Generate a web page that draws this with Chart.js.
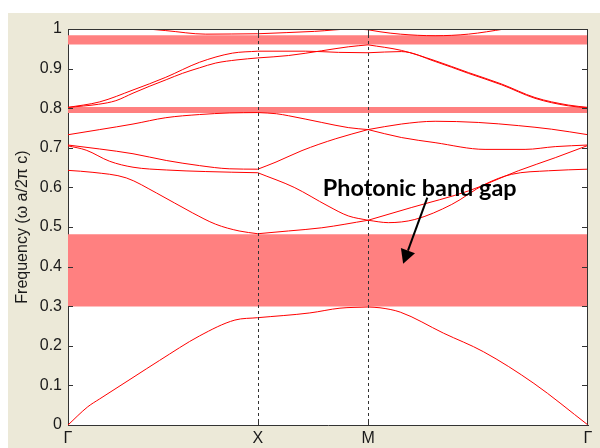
<!DOCTYPE html>
<html>
<head>
<meta charset="utf-8">
<script src="https://cdn.jsdelivr.net/npm/chart.js@4.4.0/dist/chart.umd.min.js"></script>
<style>
  html, body { margin: 0; padding: 0; background: #fff; }
  #wrap { width: 600px; height: 448px; }
</style>
</head>
<body>
<div id="wrap"><canvas id="bands" width="600" height="448"></canvas></div>
<script>
// position along the Γ-X-M-Γ path (0..1) and the symmetry point labels
const kTicks = [0, 0.365, 0.577, 1];
const kLabels = ["Γ", "X", "M", "Γ"];

// bands, frequency in units of ωa/2πc
const k1 = [0, 0.038, 0.061, 0.125, 0.176, 0.253, 0.321, 0.365, 0.465, 0.523, 0.577, 0.6, 0.639, 0.722, 0.799, 0.896, 1];
const w1 = [0, 0.046, 0.066, 0.12, 0.163, 0.225, 0.265, 0.271, 0.283, 0.295, 0.298, 0.296, 0.285, 0.232, 0.185, 0.105, 0];

const k2 = [0, 0.048, 0.112, 0.17, 0.239, 0.284, 0.329, 0.365, 0.424, 0.488, 0.577, 0.616, 0.667, 0.738, 0.802, 0.853, 0.924, 1];
const w2 = [0.643, 0.638, 0.624, 0.586, 0.536, 0.507, 0.49, 0.483, 0.49, 0.498, 0.517, 0.511, 0.519, 0.557, 0.608, 0.633, 0.642, 0.646];

const k3 = [0, 0.035, 0.08, 0.125, 0.189, 0.265, 0.365, 0.435, 0.5, 0.539, 0.577, 0.66, 0.77, 0.866, 0.937, 1];
const w3 = [0.705, 0.694, 0.666, 0.651, 0.644, 0.64, 0.637, 0.6, 0.553, 0.528, 0.517, 0.549, 0.591, 0.642, 0.675, 0.706];

const k4 = [0, 0.061, 0.125, 0.189, 0.253, 0.31, 0.365, 0.4, 0.45, 0.515, 0.577, 0.641, 0.706, 0.802, 0.879, 0.937, 1];
const w4 = [0.707, 0.697, 0.685, 0.668, 0.655, 0.647, 0.646, 0.664, 0.693, 0.723, 0.746, 0.726, 0.713, 0.696, 0.696, 0.703, 0.707];

const k5 = [0, 0.061, 0.125, 0.188, 0.253, 0.31, 0.365, 0.401, 0.424, 0.488, 0.539, 0.577, 0.641, 0.706, 0.789, 0.866, 0.93, 1];
const w5 = [0.733, 0.746, 0.76, 0.776, 0.784, 0.788, 0.789, 0.786, 0.781, 0.764, 0.751, 0.746, 0.76, 0.767, 0.764, 0.756, 0.747, 0.733];

const k6 = [0, 0.059, 0.092, 0.125, 0.156, 0.189, 0.22, 0.253, 0.284, 0.325, 0.365, 0.424, 0.488, 0.539, 0.577, 0.641, 0.706, 0.77, 0.834, 0.898, 0.962, 1];
const w6 = [0.802, 0.81, 0.819, 0.838, 0.855, 0.872, 0.888, 0.902, 0.914, 0.922, 0.927, 0.933, 0.945, 0.955, 0.96, 0.946, 0.92, 0.89, 0.861, 0.827, 0.808, 0.802];

const k7 = [0, 0.061, 0.125, 0.188, 0.253, 0.316, 0.365, 0.457, 0.52, 0.577, 0.641, 0.706, 0.77, 0.834, 0.898, 0.962, 1];
const w7 = [0.802, 0.816, 0.846, 0.878, 0.916, 0.939, 0.944, 0.944, 0.941, 0.94, 0.943, 0.918, 0.888, 0.859, 0.825, 0.806, 0.801];

const k8 = [0, 0.153, 0.188, 0.265, 0.365, 0.474, 0.549, 0.577, 0.6, 0.639, 0.706, 0.77, 0.84, 1];
const w8 = [1.02, 1.0, 0.996, 0.987, 0.988, 0.994, 1.0, 0.998, 0.993, 0.987, 0.983, 0.987, 1.0, 1.03];

// shaded stop bands
const gapLow = [0.299, 0.788, 0.961];
const gapHigh = [0.482, 0.803, 0.984];

const bandK = [k1, k2, k3, k4, k5, k6, k7, k8];
const bandW = [w1, w2, w3, w4, w5, w6, w7, w8];

const datasets = [];
gapLow.forEach((lo, i) => {
  const hi = gapHigh[i];
  datasets.push({ data: [{ x: 0, y: lo }, { x: 1, y: lo }], borderWidth: 0, pointRadius: 0, fill: false, order: 2 });
  datasets.push({ data: [{ x: 0, y: hi }, { x: 1, y: hi }], borderWidth: 0, pointRadius: 0,
    fill: "-1", backgroundColor: "#ff8080", order: 2 });
});
// one smooth piece per leg of the path, so the kinks at X and M stay sharp
bandK.forEach((ks, i) => {
  for (let s = 0; s < kTicks.length - 1; s++) {
    const lo = kTicks[s] - 1e-9, hi = kTicks[s + 1] + 1e-9;
    const pts = [];
    ks.forEach((k, j) => { if (k >= lo && k <= hi) pts.push({ x: k, y: bandW[i][j] }); });
    datasets.push({
      data: pts, borderColor: "#ff0000", borderWidth: 1, pointRadius: 0,
      cubicInterpolationMode: "monotone", fill: false, order: 1
    });
  }
});

const axisColor = "#333333";

const decor = {
  id: "decor",
  beforeDraw(chart) {
    const { ctx, chartArea: a } = chart;
    ctx.save();
    ctx.fillStyle = "#ffffff";
    ctx.fillRect(0, 0, chart.width, chart.height);
    ctx.fillStyle = "#ece9d8";
    ctx.fillRect(8, 13, chart.width - 8, chart.height - 13);
    ctx.fillStyle = "#ffffff";
    ctx.fillRect(a.left, a.top, a.right - a.left, a.bottom - a.top);
    ctx.restore();
  },
  afterDatasetsDraw(chart) {
    const { ctx, chartArea: a, scales: { x, y } } = chart;
    ctx.save();
    ctx.strokeStyle = axisColor;
    ctx.lineWidth = 1;
    // dashed lines at X and M
    ctx.setLineDash([3, 3]);
    kTicks.slice(1, -1).forEach(k => {
      const px = Math.round(x.getPixelForValue(k)) + 0.5;
      ctx.beginPath(); ctx.moveTo(px, a.top); ctx.lineTo(px, a.bottom); ctx.stroke();
    });
    ctx.setLineDash([]);
    // box
    ctx.beginPath();
    ctx.moveTo(a.left + 0.5, a.top + 0.5); ctx.lineTo(a.right - 0.5, a.top + 0.5);
    ctx.lineTo(a.right - 0.5, a.bottom - 0.5);
    ctx.stroke();
    // inward ticks
    y.ticks.forEach(t => {
      const py = Math.round(y.getPixelForValue(t.value)) + 0.5;
      ctx.beginPath();
      ctx.moveTo(a.left, py); ctx.lineTo(a.left + 5, py);
      ctx.moveTo(a.right, py); ctx.lineTo(a.right - 6, py);
      ctx.stroke();
    });
    kTicks.slice(1, -1).forEach(k => {
      const px = Math.round(x.getPixelForValue(k)) + 0.5;
      ctx.beginPath();
      ctx.moveTo(px, a.bottom); ctx.lineTo(px, a.bottom - 6);
      ctx.moveTo(px, a.top); ctx.lineTo(px, a.top + 6);
      ctx.stroke();
    });
    ctx.restore();
  },
  afterDraw(chart) {
    const { ctx, scales: { x, y } } = chart;
    const label = "Photonic band gap";
    ctx.save();
    ctx.font = "bold 20px Lato";
    const size = 20 * 194 / ctx.measureText(label).width;
    ctx.font = "bold " + size.toFixed(1) + "px Lato";
    ctx.fillStyle = "#000000";
    ctx.textBaseline = "alphabetic";
    ctx.fillText(label, x.getPixelForValue(0.49), y.getPixelForValue(0.579));
    // arrow
    const x0 = x.getPixelForValue(0.691), y0 = y.getPixelForValue(0.574);
    const x1 = x.getPixelForValue(0.6445), y1 = y.getPixelForValue(0.407);
    const ang = Math.atan2(y1 - y0, x1 - x0);
    const hl = 14, hw = 7.5;
    const bx = x1 - hl * Math.cos(ang), by = y1 - hl * Math.sin(ang);
    ctx.strokeStyle = "#000000";
    ctx.lineWidth = 2;
    ctx.beginPath(); ctx.moveTo(x0, y0); ctx.lineTo(bx, by); ctx.stroke();
    ctx.beginPath();
    ctx.moveTo(x1, y1);
    ctx.lineTo(bx + hw * Math.sin(ang), by - hw * Math.cos(ang));
    ctx.lineTo(bx - hw * Math.sin(ang), by + hw * Math.cos(ang));
    ctx.closePath();
    ctx.fillStyle = "#000000";
    ctx.fill();
    ctx.restore();
  }
};

new Chart(document.getElementById("bands"), {
  type: "line",
  data: { datasets },
  plugins: [decor],
  options: {
    responsive: false,
    animation: false,
    devicePixelRatio: 1,
    layout: { padding: { left: 0, top: 29, right: 12, bottom: 0 } },
    plugins: { legend: { display: false }, tooltip: { enabled: false } },
    scales: {
      x: {
        type: "linear", min: 0, max: 1,
        grid: { display: false, drawTicks: false },
        border: { color: axisColor, width: 1 },
        afterBuildTicks: s => { s.ticks = kTicks.map(v => ({ value: v })); },
        afterFit: s => { s.height = 23; },
        ticks: {
          autoSkip: false, maxRotation: 0, padding: 4,
          color: "#1a1a1a", font: { family: "Liberation Sans", size: 16 },
          callback: (v, i) => kLabels[i]
        }
      },
      y: {
        min: 0, max: 1,
        grid: { display: false, drawTicks: false },
        border: { color: axisColor, width: 1 },
        afterFit: s => { s.width = 68; },
        title: {
          display: true, text: "Frequency (ω a/2π c)", color: "#1a1a1a",
          font: { family: "Liberation Sans", size: 16 }, padding: { top: 13, bottom: 0 }
        },
        ticks: {
          stepSize: 0.1, padding: 6, color: "#1a1a1a",
          font: { family: "Liberation Sans", size: 16 },
          callback: v => String(+v.toFixed(1))
        }
      }
    }
  }
});
</script>
</body>
</html>
